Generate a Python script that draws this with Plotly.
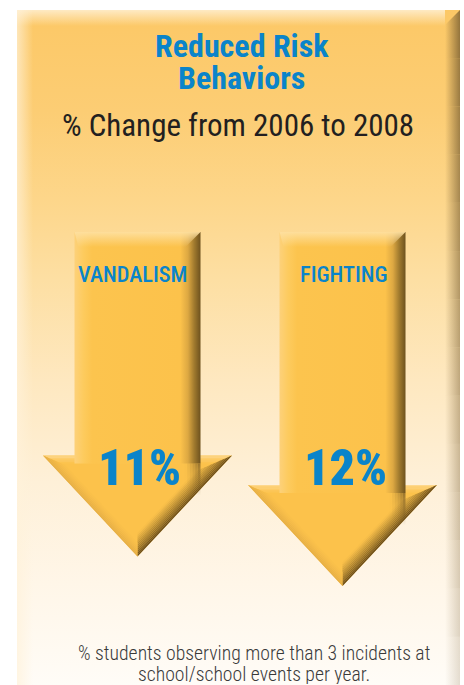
import plotly.graph_objects as go

# ---- data -------------------------------------------------------------
categories = ["VANDALISM", "FIGHTING"]
pct_change = [11, 12]
value_labels = ["11%", "12%"]

title_lines = ["Reduced Risk", "Behaviors"]
subtitle = "% Change from 2006 to 2008"
footnote_lines = ["% students observing more than 3 incidents at",
                  "school/school events per year."]

# ---- canvas / scales ----------------------------------------------------
W, H = 464, 685
SX = 205.0          # px per category step
SY = 29.5           # px per percentage point
X0_PX = 137.5       # px position of first category
Y0_PX = 232.0       # px position of 0 %

BLUE = "#0A84CA"
GOLD = "#FCC24B"
FONT = "Roboto Condensed, Liberation Sans, Arial, sans-serif"

SHAFT_HW = 63 / SX      # shaft half-width (category units)
HEAD_HW = 94.5 / SX     # head half-width (category units)
HEAD_LEN = 101 / SY     # head length (percentage units)

fig = go.Figure()


def hexrgb(h):
    h = h.lstrip("#")
    return tuple(int(h[i:i + 2], 16) for i in (0, 2, 4))


def mix(c1, c2, t):
    a, b = hexrgb(c1), hexrgb(c2)
    return "rgb(%d,%d,%d)" % tuple(round(a[i] + (b[i] - a[i]) * t) for i in range(3))


def poly(xs, ys, color=None, grad=None, data=True):
    kw = dict(x=list(xs) + [xs[0]], y=list(ys) + [ys[0]], mode="lines",
              line=dict(width=0), fill="toself", hoverinfo="skip",
              showlegend=False)
    if grad is not None:
        kw["fillgradient"] = grad
        kw["fillcolor"] = "rgba(0,0,0,0)"
    else:
        kw["fillcolor"] = color
    if data:
        kw["xaxis"], kw["yaxis"] = "x2", "y2"
    fig.add_trace(go.Scatter(**kw))


# ---- background panel (pixel axes x/y) ----------------------------------
PL, PT, PR, PB = 17, 10, 460, 685
poly([PL, PR, PR, PL], [PT, PT, PB, PB], data=False,
     grad=dict(type="vertical", start=PT, stop=PB,
               colorscale=[[0.0, "#FCC866"], [0.15, "#FCCD74"],
                           [0.28, "#FDD68A"], [0.40, "#FDDFA3"],
                           [0.55, "#FEE8C0"], [0.70, "#FEF0D8"],
                           [0.85, "#FFF6E8"], [1.0, "#FFFCF7"]]))
# top and left bevel highlights
poly([PL, PR - 15, PR - 15, PL], [PT, PT, PT + 16, PT + 16], data=False,
     grad=dict(type="vertical", start=PT, stop=PT + 16,
               colorscale=[[0, "rgba(255,240,212,0.85)"], [1, "rgba(255,240,212,0)"]]))
poly([PL, PL + 16, PL + 16, PL], [PT, PT, PB, PB], data=False,
     grad=dict(type="horizontal", start=PL, stop=PL + 16,
               colorscale=[[0, "rgba(255,242,218,0.7)"], [1, "rgba(255,242,218,0)"]]))
# right shadow edge, fading toward the bottom
nseg = 14
for i in range(nseg):
    y1 = PT + (PB - PT) * i / nseg
    y2 = PT + (PB - PT) * (i + 1) / nseg
    a = 0.8 - 0.62 * (i + 0.5) / nseg
    xs = [PR - 15, PR, PR, PR - 15]
    ys = [y1 + (15 if i == 0 else 0), y1, y2, y2]
    poly(xs, ys, data=False,
         grad=dict(type="horizontal", start=PR - 15, stop=PR,
                   colorscale=[[0, "rgba(118,92,48,0)"], [1, "rgba(118,92,48,%.2f)" % a]]))


# ---- arrows -------------------------------------------------------------
def inset_tri(pts, d):
    """Shrink a triangle (pixel space) so every edge moves inward by d."""
    (ax, ay), (bx, by), (cx, cy) = pts
    la = ((bx - cx) ** 2 + (by - cy) ** 2) ** 0.5
    lb = ((ax - cx) ** 2 + (ay - cy) ** 2) ** 0.5
    lc = ((ax - bx) ** 2 + (ay - by) ** 2) ** 0.5
    p = la + lb + lc
    ix, iy = (la * ax + lb * bx + lc * cx) / p, (la * ay + lb * by + lc * cy) / p
    area = abs((bx - ax) * (cy - ay) - (cx - ax) * (by - ay)) / 2
    r = area / (p / 2)
    k = (r - d) / r
    return [(ix + (x - ix) * k, iy + (y - iy) * k) for x, y in pts]


def draw_arrow(c, v):
    base = v - HEAD_LEN
    # head triangle, worked out in pixel space so bevels keep an even width
    A = (c - HEAD_HW, base)
    B = (c + HEAD_HW, base)
    T = (c, v)
    tri_px = [(x * SX, y * SY) for x, y in (A, B, T)]
    poly([A[0], B[0], T[0]], [A[1], B[1], T[1]], color=GOLD)
    bands = 12
    width = 16.0
    ramps = {
        (0, 1): ("#FEDC98", GOLD, 8.0),    # top edge: highlight
        (1, 2): ("#5A4116", GOLD, 16.0),   # right slope: deep shadow
        (2, 0): ("#E3AC45", GOLD, 10.0),   # left slope: soft
    }
    levels = [inset_tri(tri_px, width * k / bands) for k in range(bands + 1)]
    for (i, j), (c_out, c_in, reach) in ramps.items():
        for k in range(bands):
            d_mid = width * (k + 0.5) / bands
            t = min(d_mid / reach, 1.0)
            if t >= 1.0:
                continue
            col = mix(c_out, c_in, t ** 0.8)
            q = [levels[k][i], levels[k][j], levels[k + 1][j], levels[k + 1][i]]
            poly([x / SX for x, _ in q], [y / SY for _, y in q], color=col)

    # shaft with side shading
    ext = 8 / SY
    xl, xr = c - SHAFT_HW, c + SHAFT_HW
    poly([xl, xr, xr, xl], [0, 0, base + ext, base + ext],
         grad=dict(type="horizontal", start=xl, stop=xr,
                   colorscale=[[0.0, "#FDD17A"], [0.07, "#FDCB5E"],
                               [0.14, "#FCC44E"], [0.84, "#FCC24B"],
                               [0.90, "#DDA842"], [0.95, "#A07A2E"],
                               [1.0, "#6E521E"]]))
    # top bevel of shaft
    bev = 15
    poly([xl, xr, xr - bev / SX, xl + 4 / SX], [0, 0, bev / SY, bev / SY],
         grad=dict(type="vertical", start=0, stop=bev / SY,
                   colorscale=[[0, "rgba(254,224,160,0.95)"], [1, "rgba(254,224,160,0)"]]))
    # shadow of the shaft's right side fading onto the head
    ncol = 6
    for m in range(ncol):
        xa = xr - 16 / SX + (16 / SX) * m / ncol
        xb = xr - 16 / SX + (16 / SX) * (m + 1) / ncol
        a = 0.75 * ((m + 0.5) / ncol) ** 1.4
        poly([xa, xb, xb, xa], [base + ext, base + ext, base + 40 / SY, base + 40 / SY],
             grad=dict(type="vertical", start=base + ext, stop=base + 40 / SY,
                       colorscale=[[0, "rgba(105,78,30,%.2f)" % a], [1, "rgba(105,78,30,0)"]]))


for i, v in enumerate(pct_change):
    draw_arrow(i, v)

# ---- text ---------------------------------------------------------------
def ann(text, xp, yp, size, color, weight="normal", height=None):
    fig.add_annotation(text=text, x=xp / W, y=1 - yp / H,
                       xref="paper", yref="paper", height=height,
                       xanchor="center", yanchor="middle", showarrow=False,
                       font=dict(family=FONT, size=size, color=color, weight=weight))


ann(title_lines[0], 241.5, 46, 32, BLUE, weight="bold", height=30)
ann(title_lines[1], 241.5, 78, 32, BLUE, weight="bold", height=30)
ann(subtitle, 238.5, 125, 31, "#231F20")
ann(footnote_lines[0], 253.5, 653, 19.7, "#3A3A3A", weight=300, height=22)
ann(footnote_lines[1], 253.5, 674, 19.7, "#3A3A3A", weight=300, height=20)

label_shift = [-5, 1]
value_shift = [2, 3]
for i, (cat, lab) in enumerate(zip(categories, value_labels)):
    fig.add_annotation(text=cat, x=i, y=1.44, xref="x2", yref="y2",
                       xshift=label_shift[i], showarrow=False,
                       xanchor="center", yanchor="middle",
                       font=dict(family=FONT, size=22.3, color=BLUE, weight=500))
    fig.add_annotation(text=lab, x=i, y=8.0, xref="x2", yref="y2",
                       xshift=value_shift[i], showarrow=False,
                       xanchor="center", yanchor="middle",
                       font=dict(family=FONT, size=50, color=BLUE, weight=900))

# ---- layout -------------------------------------------------------------
fig.update_layout(
    width=W, height=H, margin=dict(l=0, r=0, t=0, b=0),
    paper_bgcolor="white", plot_bgcolor="rgba(0,0,0,0)",
    showlegend=False,
    xaxis=dict(range=[0, W], visible=False, fixedrange=True),
    yaxis=dict(range=[H, 0], visible=False, fixedrange=True),
    xaxis2=dict(range=[-X0_PX / SX, (W - X0_PX) / SX], visible=False,
                overlaying="x", fixedrange=True),
    yaxis2=dict(range=[(H - Y0_PX) / SY, -Y0_PX / SY], visible=False,
                overlaying="y", fixedrange=True),
)
fig.write_html("out.html")
